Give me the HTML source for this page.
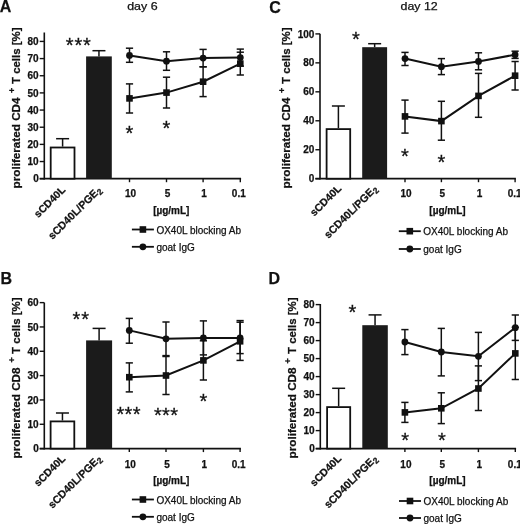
<!DOCTYPE html>
<html><head><meta charset="utf-8"><style>
html,body{margin:0;padding:0;background:#fff;overflow:hidden;}
svg{display:block;will-change:transform;}
text{font-family:"Liberation Sans", sans-serif;stroke:#111;stroke-width:0.25px;fill:#111;}
</style></head><body>
<svg width="520" height="524" viewBox="0 0 520 524">
<g stroke="#111" fill="#111">
<text x="-0.30" y="12.30" font-size="16" font-weight="bold" text-anchor="start">A</text>
<text x="127.20" y="9.50" font-size="10.8" font-weight="normal" text-anchor="start" textLength="30.4" lengthAdjust="spacingAndGlyphs">day 6</text>
<text transform="translate(19.60,188.40) rotate(-90) scale(1.0824537037037036,1)" font-size="10.8" font-weight="bold" text-anchor="start">proliferated CD4</text>
<text transform="translate(14.55,90.40) rotate(-90) scale(1.0,1)" font-size="9" font-weight="bold" text-anchor="middle">+</text>
<text transform="translate(19.60,84.00) rotate(-90) scale(1.0575572685185186,1)" font-size="10.8" font-weight="bold" text-anchor="start">T cells [%]</text>
<text transform="translate(66.00,190.50) rotate(-45) scale(1.0,1)" font-size="10.5" font-weight="bold" text-anchor="end">sCD40L</text>
<text transform="translate(102.00,190.50) rotate(-45) scale(1.0,1)" font-size="10.7" font-weight="bold" text-anchor="end">sCD40L/PGE<tspan font-size="8.5" dy="2.2">2</tspan></text>
<line x1="44.30" y1="32.50" x2="44.30" y2="179.60" stroke-width="1.6"/>
<line x1="39.70" y1="178.70" x2="44.30" y2="178.70" stroke-width="1.4"/>
<text x="38.70" y="182.30" font-size="10" font-weight="bold" text-anchor="end">0</text>
<line x1="39.70" y1="161.54" x2="44.30" y2="161.54" stroke-width="1.4"/>
<text x="38.70" y="165.14" font-size="10" font-weight="bold" text-anchor="end">10</text>
<line x1="39.70" y1="144.38" x2="44.30" y2="144.38" stroke-width="1.4"/>
<text x="38.70" y="147.98" font-size="10" font-weight="bold" text-anchor="end">20</text>
<line x1="39.70" y1="127.22" x2="44.30" y2="127.22" stroke-width="1.4"/>
<text x="38.70" y="130.82" font-size="10" font-weight="bold" text-anchor="end">30</text>
<line x1="39.70" y1="110.06" x2="44.30" y2="110.06" stroke-width="1.4"/>
<text x="38.70" y="113.66" font-size="10" font-weight="bold" text-anchor="end">40</text>
<line x1="39.70" y1="92.90" x2="44.30" y2="92.90" stroke-width="1.4"/>
<text x="38.70" y="96.50" font-size="10" font-weight="bold" text-anchor="end">50</text>
<line x1="39.70" y1="75.74" x2="44.30" y2="75.74" stroke-width="1.4"/>
<text x="38.70" y="79.34" font-size="10" font-weight="bold" text-anchor="end">60</text>
<line x1="39.70" y1="58.58" x2="44.30" y2="58.58" stroke-width="1.4"/>
<text x="38.70" y="62.18" font-size="10" font-weight="bold" text-anchor="end">70</text>
<line x1="39.70" y1="41.42" x2="44.30" y2="41.42" stroke-width="1.4"/>
<text x="38.70" y="45.02" font-size="10" font-weight="bold" text-anchor="end">80</text>
<line x1="39.70" y1="178.70" x2="241.10" y2="178.70" stroke-width="1.8"/>
<line x1="129.50" y1="178.70" x2="129.50" y2="182.20" stroke-width="1.4"/>
<line x1="166.50" y1="178.70" x2="166.50" y2="182.20" stroke-width="1.4"/>
<line x1="203.10" y1="178.70" x2="203.10" y2="182.20" stroke-width="1.4"/>
<line x1="240.30" y1="178.70" x2="240.30" y2="182.20" stroke-width="1.4"/>
<text x="130.50" y="197.20" font-size="10" font-weight="bold" text-anchor="middle">10</text>
<text x="167.50" y="197.20" font-size="10" font-weight="bold" text-anchor="middle">5</text>
<text x="204.10" y="197.20" font-size="10" font-weight="bold" text-anchor="middle">1</text>
<text x="238.80" y="197.20" font-size="10" font-weight="bold" text-anchor="middle">0.1</text>
<text x="171.30" y="213.50" font-size="10" font-weight="bold" text-anchor="middle">[µg/mL]</text>
<line x1="62.60" y1="146.60" x2="62.60" y2="138.70" stroke-width="1.5"/>
<line x1="56.10" y1="138.70" x2="69.10" y2="138.70" stroke-width="1.5"/>
<rect x="50.70" y="147.50" width="23.80" height="31.20" fill="#fff" stroke="#111" stroke-width="1.8"/>
<line x1="98.95" y1="56.40" x2="98.95" y2="50.70" stroke-width="1.5"/>
<line x1="92.45" y1="50.70" x2="105.45" y2="50.70" stroke-width="1.5"/>
<rect x="86.10" y="56.40" width="25.70" height="122.30" fill="#1b1b1b" stroke="none"/>
<polyline points="129.50,55.40 166.50,61.20 203.10,58.10 240.30,57.60" fill="none" stroke-width="2"/>
<line x1="129.50" y1="48.20" x2="129.50" y2="62.30" stroke-width="1.5"/>
<line x1="125.90" y1="48.20" x2="133.10" y2="48.20" stroke-width="1.5"/>
<line x1="125.90" y1="62.30" x2="133.10" y2="62.30" stroke-width="1.5"/>
<line x1="166.50" y1="51.80" x2="166.50" y2="70.30" stroke-width="1.5"/>
<line x1="162.90" y1="51.80" x2="170.10" y2="51.80" stroke-width="1.5"/>
<line x1="162.90" y1="70.30" x2="170.10" y2="70.30" stroke-width="1.5"/>
<line x1="203.10" y1="49.40" x2="203.10" y2="66.80" stroke-width="1.5"/>
<line x1="199.50" y1="49.40" x2="206.70" y2="49.40" stroke-width="1.5"/>
<line x1="199.50" y1="66.80" x2="206.70" y2="66.80" stroke-width="1.5"/>
<line x1="240.30" y1="49.10" x2="240.30" y2="66.10" stroke-width="1.5"/>
<line x1="236.70" y1="49.10" x2="243.90" y2="49.10" stroke-width="1.5"/>
<line x1="236.70" y1="66.10" x2="243.90" y2="66.10" stroke-width="1.5"/>
<circle cx="129.50" cy="55.40" r="3.4" stroke="none"/>
<circle cx="166.50" cy="61.20" r="3.4" stroke="none"/>
<circle cx="203.10" cy="58.10" r="3.4" stroke="none"/>
<circle cx="240.30" cy="57.60" r="3.4" stroke="none"/>
<polyline points="129.50,98.40 166.50,92.60 203.10,81.70 240.30,63.60" fill="none" stroke-width="2"/>
<line x1="129.50" y1="83.90" x2="129.50" y2="113.00" stroke-width="1.5"/>
<line x1="125.90" y1="83.90" x2="133.10" y2="83.90" stroke-width="1.5"/>
<line x1="125.90" y1="113.00" x2="133.10" y2="113.00" stroke-width="1.5"/>
<line x1="166.50" y1="77.20" x2="166.50" y2="108.00" stroke-width="1.5"/>
<line x1="162.90" y1="77.20" x2="170.10" y2="77.20" stroke-width="1.5"/>
<line x1="162.90" y1="108.00" x2="170.10" y2="108.00" stroke-width="1.5"/>
<line x1="203.10" y1="66.80" x2="203.10" y2="96.60" stroke-width="1.5"/>
<line x1="199.50" y1="66.80" x2="206.70" y2="66.80" stroke-width="1.5"/>
<line x1="199.50" y1="96.60" x2="206.70" y2="96.60" stroke-width="1.5"/>
<line x1="240.30" y1="52.20" x2="240.30" y2="75.00" stroke-width="1.5"/>
<line x1="236.70" y1="52.20" x2="243.90" y2="52.20" stroke-width="1.5"/>
<line x1="236.70" y1="75.00" x2="243.90" y2="75.00" stroke-width="1.5"/>
<rect x="126.20" y="95.10" width="6.6" height="6.6" stroke="none"/>
<rect x="163.20" y="89.30" width="6.6" height="6.6" stroke="none"/>
<rect x="199.80" y="78.40" width="6.6" height="6.6" stroke="none"/>
<rect x="237.00" y="60.30" width="6.6" height="6.6" stroke="none"/>
<line x1="131.90" y1="229.50" x2="153.90" y2="229.50" stroke-width="1.8"/>
<rect x="139.60" y="226.20" width="6.6" height="6.6" stroke="none"/>
<text x="156.40" y="233.60" font-size="10" font-weight="normal" text-anchor="start">OX40L blocking Ab</text>
<line x1="131.90" y1="246.80" x2="153.90" y2="246.80" stroke-width="1.8"/>
<circle cx="142.90" cy="246.80" r="3.4" stroke="none"/>
<text x="156.40" y="250.80" font-size="10" font-weight="normal" text-anchor="start">goat IgG</text>
<text x="69.70" y="52.36" font-size="20" font-weight="normal" text-anchor="middle" style="stroke-width:0.3px">*</text>
<text x="78.30" y="52.36" font-size="20" font-weight="normal" text-anchor="middle" style="stroke-width:0.3px">*</text>
<text x="86.90" y="52.36" font-size="20" font-weight="normal" text-anchor="middle" style="stroke-width:0.3px">*</text>
<text x="129.50" y="139.66" font-size="20" font-weight="normal" text-anchor="middle" style="stroke-width:0.3px">*</text>
<text x="166.50" y="135.16" font-size="20" font-weight="normal" text-anchor="middle" style="stroke-width:0.3px">*</text>
<text x="269.20" y="12.60" font-size="16" font-weight="bold" text-anchor="start">C</text>
<text x="400.50" y="9.60" font-size="10.8" font-weight="normal" text-anchor="start" textLength="37.2" lengthAdjust="spacingAndGlyphs">day 12</text>
<text transform="translate(289.60,188.40) rotate(-90) scale(1.0824537037037036,1)" font-size="10.8" font-weight="bold" text-anchor="start">proliferated CD4</text>
<text transform="translate(284.55,90.40) rotate(-90) scale(1.0,1)" font-size="9" font-weight="bold" text-anchor="middle">+</text>
<text transform="translate(289.60,84.00) rotate(-90) scale(1.0575572685185186,1)" font-size="10.8" font-weight="bold" text-anchor="start">T cells [%]</text>
<text transform="translate(342.00,189.20) rotate(-45) scale(1.0,1)" font-size="10.5" font-weight="bold" text-anchor="end">sCD40L</text>
<text transform="translate(378.00,189.40) rotate(-45) scale(1.0,1)" font-size="10.7" font-weight="bold" text-anchor="end">sCD40L/PGE<tspan font-size="8.5" dy="2.2">2</tspan></text>
<line x1="320.00" y1="33.70" x2="320.00" y2="179.60" stroke-width="1.6"/>
<line x1="315.40" y1="178.70" x2="320.00" y2="178.70" stroke-width="1.4"/>
<text x="314.40" y="182.30" font-size="10" font-weight="bold" text-anchor="end">0</text>
<line x1="315.40" y1="149.74" x2="320.00" y2="149.74" stroke-width="1.4"/>
<text x="314.40" y="153.34" font-size="10" font-weight="bold" text-anchor="end">20</text>
<line x1="315.40" y1="120.78" x2="320.00" y2="120.78" stroke-width="1.4"/>
<text x="314.40" y="124.38" font-size="10" font-weight="bold" text-anchor="end">40</text>
<line x1="315.40" y1="91.82" x2="320.00" y2="91.82" stroke-width="1.4"/>
<text x="314.40" y="95.42" font-size="10" font-weight="bold" text-anchor="end">60</text>
<line x1="315.40" y1="62.86" x2="320.00" y2="62.86" stroke-width="1.4"/>
<text x="314.40" y="66.46" font-size="10" font-weight="bold" text-anchor="end">80</text>
<line x1="315.40" y1="33.90" x2="320.00" y2="33.90" stroke-width="1.4"/>
<text x="314.40" y="37.50" font-size="10" font-weight="bold" text-anchor="end">100</text>
<line x1="315.40" y1="178.70" x2="515.90" y2="178.70" stroke-width="1.8"/>
<line x1="405.00" y1="178.70" x2="405.00" y2="182.20" stroke-width="1.4"/>
<line x1="441.40" y1="178.70" x2="441.40" y2="182.20" stroke-width="1.4"/>
<line x1="478.50" y1="178.70" x2="478.50" y2="182.20" stroke-width="1.4"/>
<line x1="515.10" y1="178.70" x2="515.10" y2="182.20" stroke-width="1.4"/>
<text x="406.00" y="197.20" font-size="10" font-weight="bold" text-anchor="middle">10</text>
<text x="442.40" y="197.20" font-size="10" font-weight="bold" text-anchor="middle">5</text>
<text x="479.50" y="197.20" font-size="10" font-weight="bold" text-anchor="middle">1</text>
<text x="514.60" y="197.20" font-size="10" font-weight="bold" text-anchor="middle">0.1</text>
<text x="447.50" y="214.20" font-size="10" font-weight="bold" text-anchor="middle">[µg/mL]</text>
<line x1="338.40" y1="128.20" x2="338.40" y2="106.00" stroke-width="1.5"/>
<line x1="331.90" y1="106.00" x2="344.90" y2="106.00" stroke-width="1.5"/>
<rect x="326.60" y="129.10" width="23.60" height="49.60" fill="#fff" stroke="#111" stroke-width="1.8"/>
<line x1="374.65" y1="47.20" x2="374.65" y2="43.70" stroke-width="1.5"/>
<line x1="368.15" y1="43.70" x2="381.15" y2="43.70" stroke-width="1.5"/>
<rect x="362.20" y="47.20" width="24.90" height="131.50" fill="#1b1b1b" stroke="none"/>
<polyline points="405.00,58.60 441.40,66.70 478.50,61.40 515.10,54.70" fill="none" stroke-width="2"/>
<line x1="405.00" y1="52.40" x2="405.00" y2="65.50" stroke-width="1.5"/>
<line x1="401.40" y1="52.40" x2="408.60" y2="52.40" stroke-width="1.5"/>
<line x1="401.40" y1="65.50" x2="408.60" y2="65.50" stroke-width="1.5"/>
<line x1="441.40" y1="58.60" x2="441.40" y2="74.60" stroke-width="1.5"/>
<line x1="437.80" y1="58.60" x2="445.00" y2="58.60" stroke-width="1.5"/>
<line x1="437.80" y1="74.60" x2="445.00" y2="74.60" stroke-width="1.5"/>
<line x1="478.50" y1="52.80" x2="478.50" y2="69.80" stroke-width="1.5"/>
<line x1="474.90" y1="52.80" x2="482.10" y2="52.80" stroke-width="1.5"/>
<line x1="474.90" y1="69.80" x2="482.10" y2="69.80" stroke-width="1.5"/>
<line x1="515.10" y1="51.20" x2="515.10" y2="58.40" stroke-width="1.5"/>
<line x1="511.50" y1="51.20" x2="518.70" y2="51.20" stroke-width="1.5"/>
<line x1="511.50" y1="58.40" x2="518.70" y2="58.40" stroke-width="1.5"/>
<circle cx="405.00" cy="58.60" r="3.4" stroke="none"/>
<circle cx="441.40" cy="66.70" r="3.4" stroke="none"/>
<circle cx="478.50" cy="61.40" r="3.4" stroke="none"/>
<circle cx="515.10" cy="54.70" r="3.4" stroke="none"/>
<polyline points="405.00,116.40 441.40,121.10 478.50,95.90 515.10,75.70" fill="none" stroke-width="2"/>
<line x1="405.00" y1="100.10" x2="405.00" y2="133.10" stroke-width="1.5"/>
<line x1="401.40" y1="100.10" x2="408.60" y2="100.10" stroke-width="1.5"/>
<line x1="401.40" y1="133.10" x2="408.60" y2="133.10" stroke-width="1.5"/>
<line x1="441.40" y1="101.30" x2="441.40" y2="140.20" stroke-width="1.5"/>
<line x1="437.80" y1="101.30" x2="445.00" y2="101.30" stroke-width="1.5"/>
<line x1="437.80" y1="140.20" x2="445.00" y2="140.20" stroke-width="1.5"/>
<line x1="478.50" y1="73.40" x2="478.50" y2="117.30" stroke-width="1.5"/>
<line x1="474.90" y1="73.40" x2="482.10" y2="73.40" stroke-width="1.5"/>
<line x1="474.90" y1="117.30" x2="482.10" y2="117.30" stroke-width="1.5"/>
<line x1="515.10" y1="61.50" x2="515.10" y2="90.00" stroke-width="1.5"/>
<line x1="511.50" y1="61.50" x2="518.70" y2="61.50" stroke-width="1.5"/>
<line x1="511.50" y1="90.00" x2="518.70" y2="90.00" stroke-width="1.5"/>
<rect x="401.70" y="113.10" width="6.6" height="6.6" stroke="none"/>
<rect x="438.10" y="117.80" width="6.6" height="6.6" stroke="none"/>
<rect x="475.20" y="92.60" width="6.6" height="6.6" stroke="none"/>
<rect x="511.80" y="72.40" width="6.6" height="6.6" stroke="none"/>
<line x1="398.80" y1="231.20" x2="420.80" y2="231.20" stroke-width="1.8"/>
<rect x="406.50" y="227.90" width="6.6" height="6.6" stroke="none"/>
<text x="423.30" y="235.30" font-size="10" font-weight="normal" text-anchor="start">OX40L blocking Ab</text>
<line x1="398.80" y1="249.00" x2="420.80" y2="249.00" stroke-width="1.8"/>
<circle cx="409.80" cy="249.00" r="3.4" stroke="none"/>
<text x="423.30" y="253.00" font-size="10" font-weight="normal" text-anchor="start">goat IgG</text>
<text x="356.00" y="46.26" font-size="20" font-weight="normal" text-anchor="middle" style="stroke-width:0.3px">*</text>
<text x="405.00" y="163.36" font-size="20" font-weight="normal" text-anchor="middle" style="stroke-width:0.3px">*</text>
<text x="441.50" y="169.26" font-size="20" font-weight="normal" text-anchor="middle" style="stroke-width:0.3px">*</text>
<text x="0.50" y="283.60" font-size="16" font-weight="bold" text-anchor="start">B</text>
<text transform="translate(19.60,458.40) rotate(-90) scale(1.0824537037037036,1)" font-size="10.8" font-weight="bold" text-anchor="start">proliferated CD8</text>
<text transform="translate(14.55,359.90) rotate(-90) scale(1.0,1)" font-size="9" font-weight="bold" text-anchor="middle">+</text>
<text transform="translate(19.60,354.00) rotate(-90) scale(1.0575572685185186,1)" font-size="10.8" font-weight="bold" text-anchor="start">T cells [%]</text>
<text transform="translate(66.00,459.40) rotate(-45) scale(1.0,1)" font-size="10.5" font-weight="bold" text-anchor="end">sCD40L</text>
<text transform="translate(102.00,459.40) rotate(-45) scale(1.0,1)" font-size="10.7" font-weight="bold" text-anchor="end">sCD40L/PGE<tspan font-size="8.5" dy="2.2">2</tspan></text>
<line x1="44.30" y1="302.60" x2="44.30" y2="449.50" stroke-width="1.6"/>
<line x1="39.70" y1="448.60" x2="44.30" y2="448.60" stroke-width="1.4"/>
<text x="38.70" y="452.20" font-size="10" font-weight="bold" text-anchor="end">0</text>
<line x1="39.70" y1="424.27" x2="44.30" y2="424.27" stroke-width="1.4"/>
<text x="38.70" y="427.87" font-size="10" font-weight="bold" text-anchor="end">10</text>
<line x1="39.70" y1="399.94" x2="44.30" y2="399.94" stroke-width="1.4"/>
<text x="38.70" y="403.54" font-size="10" font-weight="bold" text-anchor="end">20</text>
<line x1="39.70" y1="375.61" x2="44.30" y2="375.61" stroke-width="1.4"/>
<text x="38.70" y="379.21" font-size="10" font-weight="bold" text-anchor="end">30</text>
<line x1="39.70" y1="351.28" x2="44.30" y2="351.28" stroke-width="1.4"/>
<text x="38.70" y="354.88" font-size="10" font-weight="bold" text-anchor="end">40</text>
<line x1="39.70" y1="326.95" x2="44.30" y2="326.95" stroke-width="1.4"/>
<text x="38.70" y="330.55" font-size="10" font-weight="bold" text-anchor="end">50</text>
<line x1="39.70" y1="302.62" x2="44.30" y2="302.62" stroke-width="1.4"/>
<text x="38.70" y="306.22" font-size="10" font-weight="bold" text-anchor="end">60</text>
<line x1="39.70" y1="448.60" x2="240.90" y2="448.60" stroke-width="1.8"/>
<line x1="129.30" y1="448.60" x2="129.30" y2="452.10" stroke-width="1.4"/>
<line x1="166.00" y1="448.60" x2="166.00" y2="452.10" stroke-width="1.4"/>
<line x1="203.40" y1="448.60" x2="203.40" y2="452.10" stroke-width="1.4"/>
<line x1="240.10" y1="448.60" x2="240.10" y2="452.10" stroke-width="1.4"/>
<text x="130.30" y="467.50" font-size="10" font-weight="bold" text-anchor="middle">10</text>
<text x="167.00" y="467.50" font-size="10" font-weight="bold" text-anchor="middle">5</text>
<text x="204.40" y="467.50" font-size="10" font-weight="bold" text-anchor="middle">1</text>
<text x="238.60" y="467.50" font-size="10" font-weight="bold" text-anchor="middle">0.1</text>
<text x="171.30" y="483.50" font-size="10" font-weight="bold" text-anchor="middle">[µg/mL]</text>
<line x1="62.45" y1="420.50" x2="62.45" y2="413.00" stroke-width="1.5"/>
<line x1="55.95" y1="413.00" x2="68.95" y2="413.00" stroke-width="1.5"/>
<rect x="50.60" y="421.40" width="23.70" height="27.20" fill="#fff" stroke="#111" stroke-width="1.8"/>
<line x1="99.10" y1="340.40" x2="99.10" y2="328.40" stroke-width="1.5"/>
<line x1="92.60" y1="328.40" x2="105.60" y2="328.40" stroke-width="1.5"/>
<rect x="86.10" y="340.40" width="26.00" height="108.20" fill="#1b1b1b" stroke="none"/>
<polyline points="129.30,330.40 166.00,338.80 203.40,337.90 240.10,337.90" fill="none" stroke-width="2"/>
<line x1="129.30" y1="318.40" x2="129.30" y2="343.20" stroke-width="1.5"/>
<line x1="125.70" y1="318.40" x2="132.90" y2="318.40" stroke-width="1.5"/>
<line x1="125.70" y1="343.20" x2="132.90" y2="343.20" stroke-width="1.5"/>
<line x1="166.00" y1="322.00" x2="166.00" y2="355.60" stroke-width="1.5"/>
<line x1="162.40" y1="322.00" x2="169.60" y2="322.00" stroke-width="1.5"/>
<line x1="162.40" y1="355.60" x2="169.60" y2="355.60" stroke-width="1.5"/>
<line x1="203.40" y1="320.90" x2="203.40" y2="354.90" stroke-width="1.5"/>
<line x1="199.80" y1="320.90" x2="207.00" y2="320.90" stroke-width="1.5"/>
<line x1="199.80" y1="354.90" x2="207.00" y2="354.90" stroke-width="1.5"/>
<line x1="240.10" y1="322.20" x2="240.10" y2="353.60" stroke-width="1.5"/>
<line x1="236.50" y1="322.20" x2="243.70" y2="322.20" stroke-width="1.5"/>
<line x1="236.50" y1="353.60" x2="243.70" y2="353.60" stroke-width="1.5"/>
<circle cx="129.30" cy="330.40" r="3.4" stroke="none"/>
<circle cx="166.00" cy="338.80" r="3.4" stroke="none"/>
<circle cx="203.40" cy="337.90" r="3.4" stroke="none"/>
<circle cx="240.10" cy="337.90" r="3.4" stroke="none"/>
<polyline points="129.30,377.20 166.00,375.50 203.40,360.40 240.10,341.30" fill="none" stroke-width="2"/>
<line x1="129.30" y1="362.90" x2="129.30" y2="391.90" stroke-width="1.5"/>
<line x1="125.70" y1="362.90" x2="132.90" y2="362.90" stroke-width="1.5"/>
<line x1="125.70" y1="391.90" x2="132.90" y2="391.90" stroke-width="1.5"/>
<line x1="166.00" y1="356.50" x2="166.00" y2="394.50" stroke-width="1.5"/>
<line x1="162.40" y1="356.50" x2="169.60" y2="356.50" stroke-width="1.5"/>
<line x1="162.40" y1="394.50" x2="169.60" y2="394.50" stroke-width="1.5"/>
<line x1="203.40" y1="340.80" x2="203.40" y2="380.00" stroke-width="1.5"/>
<line x1="199.80" y1="340.80" x2="207.00" y2="340.80" stroke-width="1.5"/>
<line x1="199.80" y1="380.00" x2="207.00" y2="380.00" stroke-width="1.5"/>
<line x1="240.10" y1="320.60" x2="240.10" y2="360.40" stroke-width="1.5"/>
<line x1="236.50" y1="320.60" x2="243.70" y2="320.60" stroke-width="1.5"/>
<line x1="236.50" y1="360.40" x2="243.70" y2="360.40" stroke-width="1.5"/>
<rect x="126.00" y="373.90" width="6.6" height="6.6" stroke="none"/>
<rect x="162.70" y="372.20" width="6.6" height="6.6" stroke="none"/>
<rect x="200.10" y="357.10" width="6.6" height="6.6" stroke="none"/>
<rect x="236.80" y="338.00" width="6.6" height="6.6" stroke="none"/>
<line x1="131.90" y1="499.50" x2="153.90" y2="499.50" stroke-width="1.8"/>
<rect x="139.60" y="496.20" width="6.6" height="6.6" stroke="none"/>
<text x="156.40" y="503.60" font-size="10" font-weight="normal" text-anchor="start">OX40L blocking Ab</text>
<line x1="131.90" y1="516.80" x2="153.90" y2="516.80" stroke-width="1.8"/>
<circle cx="142.90" cy="516.80" r="3.4" stroke="none"/>
<text x="156.40" y="520.80" font-size="10" font-weight="normal" text-anchor="start">goat IgG</text>
<text x="76.30" y="326.16" font-size="20" font-weight="normal" text-anchor="middle" style="stroke-width:0.3px">*</text>
<text x="85.20" y="326.16" font-size="20" font-weight="normal" text-anchor="middle" style="stroke-width:0.3px">*</text>
<text x="120.40" y="420.76" font-size="20" font-weight="normal" text-anchor="middle" style="stroke-width:0.3px">*</text>
<text x="128.50" y="420.76" font-size="20" font-weight="normal" text-anchor="middle" style="stroke-width:0.3px">*</text>
<text x="136.60" y="420.76" font-size="20" font-weight="normal" text-anchor="middle" style="stroke-width:0.3px">*</text>
<text x="157.90" y="422.46" font-size="20" font-weight="normal" text-anchor="middle" style="stroke-width:0.3px">*</text>
<text x="166.00" y="422.46" font-size="20" font-weight="normal" text-anchor="middle" style="stroke-width:0.3px">*</text>
<text x="174.10" y="422.46" font-size="20" font-weight="normal" text-anchor="middle" style="stroke-width:0.3px">*</text>
<text x="203.50" y="408.16" font-size="20" font-weight="normal" text-anchor="middle" style="stroke-width:0.3px">*</text>
<text x="268.60" y="284.10" font-size="16" font-weight="bold" text-anchor="start">D</text>
<text transform="translate(295.60,458.40) rotate(-90) scale(1.0824537037037036,1)" font-size="10.8" font-weight="bold" text-anchor="start">proliferated CD8</text>
<text transform="translate(290.55,360.90) rotate(-90) scale(1.0,1)" font-size="9" font-weight="bold" text-anchor="middle">+</text>
<text transform="translate(295.60,354.00) rotate(-90) scale(1.0575572685185186,1)" font-size="10.8" font-weight="bold" text-anchor="start">T cells [%]</text>
<text transform="translate(342.00,459.30) rotate(-45) scale(1.0,1)" font-size="10.5" font-weight="bold" text-anchor="end">sCD40L</text>
<text transform="translate(378.00,459.30) rotate(-45) scale(1.0,1)" font-size="10.7" font-weight="bold" text-anchor="end">sCD40L/PGE<tspan font-size="8.5" dy="2.2">2</tspan></text>
<line x1="320.30" y1="304.00" x2="320.30" y2="449.50" stroke-width="1.6"/>
<line x1="315.70" y1="448.60" x2="320.30" y2="448.60" stroke-width="1.4"/>
<text x="314.70" y="452.20" font-size="10" font-weight="bold" text-anchor="end">0</text>
<line x1="315.70" y1="430.60" x2="320.30" y2="430.60" stroke-width="1.4"/>
<text x="314.70" y="434.20" font-size="10" font-weight="bold" text-anchor="end">10</text>
<line x1="315.70" y1="412.60" x2="320.30" y2="412.60" stroke-width="1.4"/>
<text x="314.70" y="416.20" font-size="10" font-weight="bold" text-anchor="end">20</text>
<line x1="315.70" y1="394.60" x2="320.30" y2="394.60" stroke-width="1.4"/>
<text x="314.70" y="398.20" font-size="10" font-weight="bold" text-anchor="end">30</text>
<line x1="315.70" y1="376.60" x2="320.30" y2="376.60" stroke-width="1.4"/>
<text x="314.70" y="380.20" font-size="10" font-weight="bold" text-anchor="end">40</text>
<line x1="315.70" y1="358.60" x2="320.30" y2="358.60" stroke-width="1.4"/>
<text x="314.70" y="362.20" font-size="10" font-weight="bold" text-anchor="end">50</text>
<line x1="315.70" y1="340.60" x2="320.30" y2="340.60" stroke-width="1.4"/>
<text x="314.70" y="344.20" font-size="10" font-weight="bold" text-anchor="end">60</text>
<line x1="315.70" y1="322.60" x2="320.30" y2="322.60" stroke-width="1.4"/>
<text x="314.70" y="326.20" font-size="10" font-weight="bold" text-anchor="end">70</text>
<line x1="315.70" y1="304.60" x2="320.30" y2="304.60" stroke-width="1.4"/>
<text x="314.70" y="308.20" font-size="10" font-weight="bold" text-anchor="end">80</text>
<line x1="315.70" y1="448.60" x2="516.10" y2="448.60" stroke-width="1.8"/>
<line x1="404.90" y1="448.60" x2="404.90" y2="452.10" stroke-width="1.4"/>
<line x1="441.30" y1="448.60" x2="441.30" y2="452.10" stroke-width="1.4"/>
<line x1="478.40" y1="448.60" x2="478.40" y2="452.10" stroke-width="1.4"/>
<line x1="515.30" y1="448.60" x2="515.30" y2="452.10" stroke-width="1.4"/>
<text x="405.90" y="467.50" font-size="10" font-weight="bold" text-anchor="middle">10</text>
<text x="442.30" y="467.50" font-size="10" font-weight="bold" text-anchor="middle">5</text>
<text x="479.40" y="467.50" font-size="10" font-weight="bold" text-anchor="middle">1</text>
<text x="514.80" y="467.50" font-size="10" font-weight="bold" text-anchor="middle">0.1</text>
<text x="447.50" y="483.50" font-size="10" font-weight="bold" text-anchor="middle">[µg/mL]</text>
<line x1="338.65" y1="406.20" x2="338.65" y2="388.30" stroke-width="1.5"/>
<line x1="332.15" y1="388.30" x2="345.15" y2="388.30" stroke-width="1.5"/>
<rect x="327.10" y="407.10" width="23.10" height="41.50" fill="#fff" stroke="#111" stroke-width="1.8"/>
<line x1="375.05" y1="325.20" x2="375.05" y2="314.90" stroke-width="1.5"/>
<line x1="368.55" y1="314.90" x2="381.55" y2="314.90" stroke-width="1.5"/>
<rect x="362.30" y="325.20" width="25.50" height="123.40" fill="#1b1b1b" stroke="none"/>
<polyline points="404.90,342.00 441.30,352.00 478.40,356.30 515.30,327.70" fill="none" stroke-width="2"/>
<line x1="404.90" y1="329.60" x2="404.90" y2="354.60" stroke-width="1.5"/>
<line x1="401.30" y1="329.60" x2="408.50" y2="329.60" stroke-width="1.5"/>
<line x1="401.30" y1="354.60" x2="408.50" y2="354.60" stroke-width="1.5"/>
<line x1="441.30" y1="328.40" x2="441.30" y2="375.90" stroke-width="1.5"/>
<line x1="437.70" y1="328.40" x2="444.90" y2="328.40" stroke-width="1.5"/>
<line x1="437.70" y1="375.90" x2="444.90" y2="375.90" stroke-width="1.5"/>
<line x1="478.40" y1="332.40" x2="478.40" y2="380.60" stroke-width="1.5"/>
<line x1="474.80" y1="332.40" x2="482.00" y2="332.40" stroke-width="1.5"/>
<line x1="474.80" y1="380.60" x2="482.00" y2="380.60" stroke-width="1.5"/>
<line x1="515.30" y1="315.00" x2="515.30" y2="340.40" stroke-width="1.5"/>
<line x1="511.70" y1="315.00" x2="518.90" y2="315.00" stroke-width="1.5"/>
<line x1="511.70" y1="340.40" x2="518.90" y2="340.40" stroke-width="1.5"/>
<circle cx="404.90" cy="342.00" r="3.4" stroke="none"/>
<circle cx="441.30" cy="352.00" r="3.4" stroke="none"/>
<circle cx="478.40" cy="356.30" r="3.4" stroke="none"/>
<circle cx="515.30" cy="327.70" r="3.4" stroke="none"/>
<polyline points="404.90,412.40 441.30,408.30 478.40,388.50 515.30,353.40" fill="none" stroke-width="2"/>
<line x1="404.90" y1="402.40" x2="404.90" y2="422.40" stroke-width="1.5"/>
<line x1="401.30" y1="402.40" x2="408.50" y2="402.40" stroke-width="1.5"/>
<line x1="401.30" y1="422.40" x2="408.50" y2="422.40" stroke-width="1.5"/>
<line x1="441.30" y1="392.80" x2="441.30" y2="423.60" stroke-width="1.5"/>
<line x1="437.70" y1="392.80" x2="444.90" y2="392.80" stroke-width="1.5"/>
<line x1="437.70" y1="423.60" x2="444.90" y2="423.60" stroke-width="1.5"/>
<line x1="478.40" y1="365.90" x2="478.40" y2="410.50" stroke-width="1.5"/>
<line x1="474.80" y1="365.90" x2="482.00" y2="365.90" stroke-width="1.5"/>
<line x1="474.80" y1="410.50" x2="482.00" y2="410.50" stroke-width="1.5"/>
<line x1="515.30" y1="327.30" x2="515.30" y2="379.50" stroke-width="1.5"/>
<line x1="511.70" y1="327.30" x2="518.90" y2="327.30" stroke-width="1.5"/>
<line x1="511.70" y1="379.50" x2="518.90" y2="379.50" stroke-width="1.5"/>
<rect x="401.60" y="409.10" width="6.6" height="6.6" stroke="none"/>
<rect x="438.00" y="405.00" width="6.6" height="6.6" stroke="none"/>
<rect x="475.10" y="385.20" width="6.6" height="6.6" stroke="none"/>
<rect x="512.00" y="350.10" width="6.6" height="6.6" stroke="none"/>
<line x1="399.00" y1="501.00" x2="421.00" y2="501.00" stroke-width="1.8"/>
<rect x="406.70" y="497.70" width="6.6" height="6.6" stroke="none"/>
<text x="423.50" y="505.10" font-size="10" font-weight="normal" text-anchor="start">OX40L blocking Ab</text>
<line x1="399.00" y1="518.00" x2="421.00" y2="518.00" stroke-width="1.8"/>
<circle cx="410.00" cy="518.00" r="3.4" stroke="none"/>
<text x="423.50" y="522.00" font-size="10" font-weight="normal" text-anchor="start">goat IgG</text>
<text x="352.50" y="318.96" font-size="20" font-weight="normal" text-anchor="middle" style="stroke-width:0.3px">*</text>
<text x="405.20" y="446.86" font-size="20" font-weight="normal" text-anchor="middle" style="stroke-width:0.3px">*</text>
<text x="441.80" y="446.86" font-size="20" font-weight="normal" text-anchor="middle" style="stroke-width:0.3px">*</text>
</g>
</svg>
</body></html>
